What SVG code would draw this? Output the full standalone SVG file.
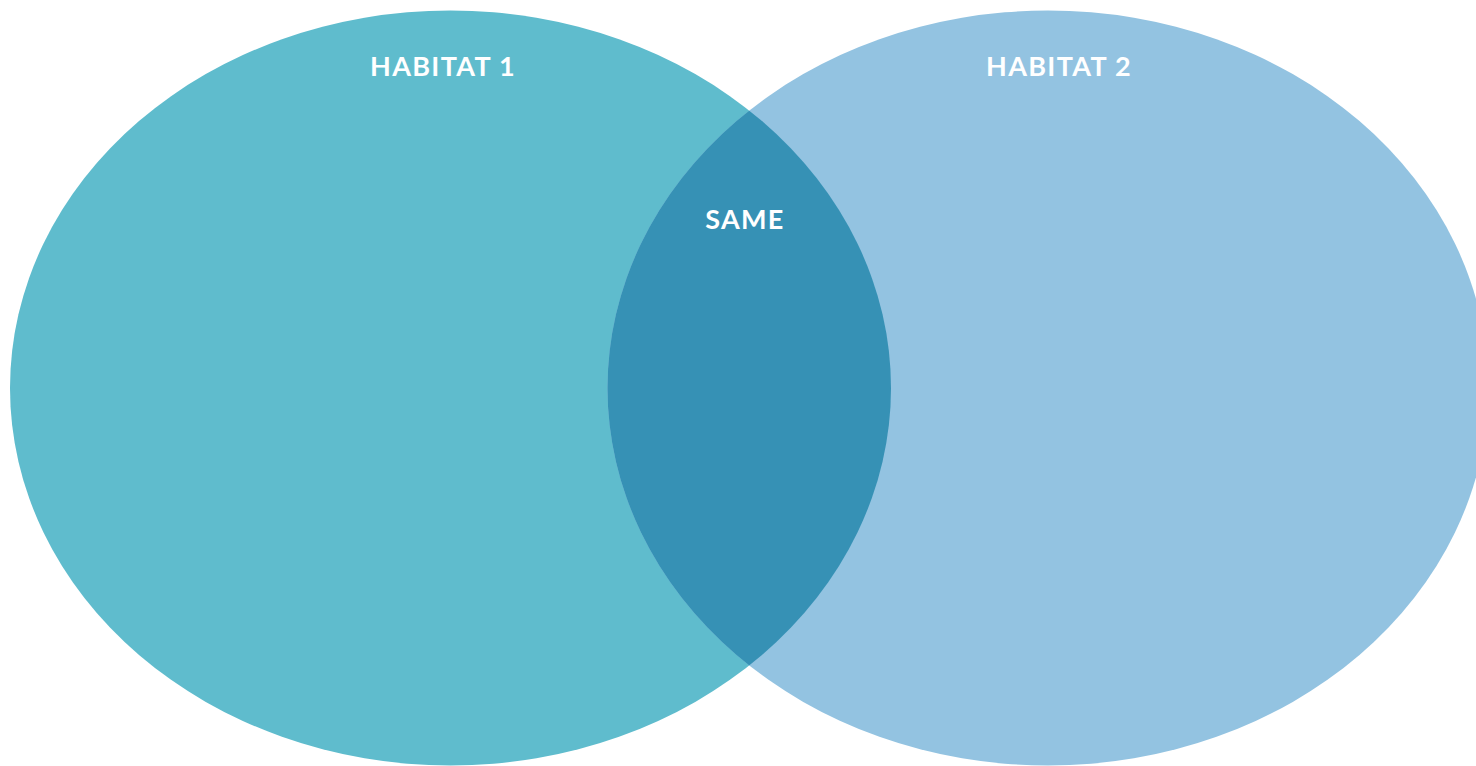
<svg xmlns="http://www.w3.org/2000/svg" width="1476" height="766" viewBox="0 0 1476 766">
  <style>
    .label { font-family: Lato, "Open Sans", "Liberation Sans", sans-serif; font-weight: 700; font-size: 27px; fill: #ffffff; text-anchor: middle; letter-spacing: 1.3px; }
  </style>
  <defs>
    <clipPath id="clip-left">
      <ellipse cx="450.5" cy="388" rx="440.5" ry="377.5"/>
    </clipPath>
  </defs>
  <rect width="1476" height="766" fill="#ffffff"/>
  <g id="habitat-1">
    <ellipse cx="450.5" cy="388" rx="440.5" ry="377.5" fill="#5fbccd"/>
    <text class="label" x="443" y="76">HABITAT 1</text>
  </g>
  <g id="habitat-2">
    <ellipse cx="1048" cy="388" rx="440.5" ry="377.5" fill="#93c3e1"/>
    <text class="label" x="1059" y="76">HABITAT 2</text>
  </g>
  <g id="same">
    <ellipse cx="1048" cy="388" rx="440.5" ry="377.5" fill="#3691b5" clip-path="url(#clip-left)"/>
    <text class="label" x="745" y="229">SAME</text>
  </g>
</svg>
